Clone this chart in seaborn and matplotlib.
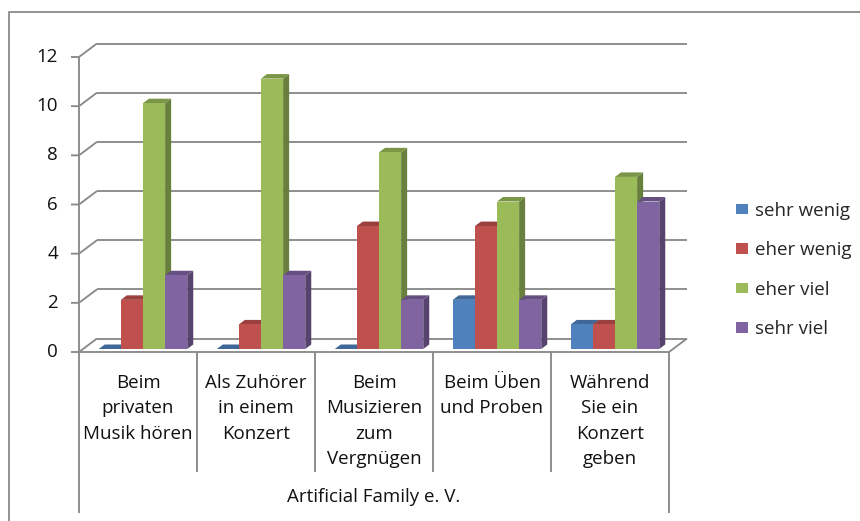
import matplotlib
matplotlib.use("Agg")
import matplotlib.pyplot as plt
from matplotlib.lines import Line2D
from matplotlib.patches import Polygon, Patch
from matplotlib.colors import to_rgb
import numpy as np
import pandas as pd
import seaborn as sns

# ---- data ---------------------------------------------------------------
categories = [
    "Beim\nprivaten\nMusik hören",
    "Als Zuhörer\nin einem\nKonzert",
    "Beim\nMusizieren\nzum\nVergnügen",
    "Beim Üben\nund Proben",
    "Während\nSie ein\nKonzert\ngeben",
]
series = ["sehr wenig", "eher wenig", "eher viel", "sehr viel"]
sehr_wenig = [0, 0, 0, 2, 1]
eher_wenig = [2, 1, 5, 5, 1]
eher_viel = [10, 11, 8, 6, 7]
sehr_viel = [3, 3, 2, 2, 6]
y_ticks = [0, 2, 4, 6, 8, 10, 12]
group_label = "Artificial Family e. V."

colors = ["#4F81BD", "#C0504D", "#9BBB59", "#8064A2"]
line_gray = "#8a8a8a"

values = [sehr_wenig, eher_wenig, eher_viel, sehr_viel]
rows = [(c, s, v[i]) for s, v in zip(series, values) for i, c in enumerate(categories)]
df = pd.DataFrame(rows, columns=["Situation", "Bewertung", "Anzahl"])

# ---- figure -------------------------------------------------------------
sns.set_theme(style="white")
plt.rcParams["font.family"] = ["Open Sans", "DejaVu Sans"]
FS = 13.5

W, H, DPI = 860, 521, 100
fig = plt.figure(figsize=(W / DPI, H / DPI), dpi=DPI)
fig.patch.set_facecolor("white")

# plane in which the bar fronts stand (pixel frame of the figure)
PL, PR, PB, PT = 84, 674, 349, 54
ax = fig.add_axes([PL / W, 1 - PB / H, (PR - PL) / W, (PB - PT) / H])

sns.barplot(
    data=df, x="Situation", y="Anzahl", hue="Bewertung",
    order=categories, hue_order=series, palette=colors,
    saturation=1, width=0.75, gap=0, linewidth=0,
    errorbar=None, legend=False, ax=ax,
)
ax.set_xlim(-0.5, len(categories) - 0.5)
ax.set_ylim(0, 12)
ax.set_xticks([])
ax.set_yticks([])
ax.set_xlabel("")
ax.set_ylabel("")
ax.patch.set_alpha(0)
for sp in ax.spines.values():
    sp.set_visible(False)

# pixel -> data conversion for the pseudo-3D offsets
sx = (PR - PL) / len(categories)
sy = (PB - PT) / 12.0


def px(dx, dy):
    """image-pixel offset (right, down) as data offset"""
    return dx / sx, -dy / sy


def ypix(py):
    """image row -> data y in the bar plane"""
    return (PB - py) / sy


fdx, fdy = px(-5, 3)       # front plane (axis, floor edge, table)
bdx, bdy = px(13, -10.5)   # back wall
ddx, ddy = px(6, -4.5)     # bar depth

x_left, x_right = -0.5, len(categories) - 0.5
lkw = dict(color=line_gray, lw=1.35, clip_on=False, solid_capstyle="butt")

# back wall grid lines with slanted connectors to the front axis
for t in y_ticks:
    ax.plot([x_left + bdx, x_right + bdx], [t + bdy, t + bdy], zorder=1, **lkw)
    ax.plot([x_left + fdx - px(8, 0)[0], x_left + fdx, x_left + bdx],
            [t + fdy, t + fdy, t + bdy], zorder=1, **lkw)
    ax.text(x_left + fdx - px(21, 0)[0], t + fdy, str(t), ha="right",
            va="center", fontsize=FS, color="#111111", clip_on=False)

# floor: front edge and right slant
ax.plot([x_left + fdx, x_right + fdx, x_right + bdx],
        [fdy, fdy, bdy], zorder=1, **lkw)

# front value axis continuing into the category table
ax.plot([x_left + fdx, x_left + fdx], [12 + fdy, ypix(513)], zorder=1, **lkw)
ax.plot([x_right + fdx, x_right + fdx], [fdy, ypix(513)], zorder=1, **lkw)
for k in range(1, len(categories)):
    ax.plot([k - 0.5 + fdx, k - 0.5 + fdx], [fdy, ypix(472)], zorder=1, **lkw)

for k, c in enumerate(categories):
    ax.text(k + fdx, ypix(374), c, ha="center", va="top", fontsize=FS,
            linespacing=1.53, color="#111111", clip_on=False)
ax.text((x_left + x_right) / 2 + fdx, ypix(497), group_label, ha="center",
        va="center", fontsize=FS, color="#111111", clip_on=False)


# 3D sides and tops of the bars
def shade(c, f):
    r, g, b = to_rgb(c)
    return (r * f, g * f, b * f)


bars = sorted([p for p in ax.patches], key=lambda p: p.get_x())
for i, p in enumerate(bars):
    x0, w, h = p.get_x(), p.get_width(), p.get_height()
    fc = p.get_facecolor()
    z = 3 + 0.01 * i
    side = Polygon([(x0 + w, 0), (x0 + w + ddx, ddy), (x0 + w + ddx, h + ddy), (x0 + w, h)],
                   closed=True, facecolor=shade(fc, 0.68), edgecolor="none", zorder=z)
    top = Polygon([(x0, h), (x0 + w, h), (x0 + w + ddx, h + ddy), (x0 + ddx, h + ddy)],
                  closed=True, facecolor=shade(fc, 0.8), edgecolor="none", zorder=z + 0.002)
    if h > 0:
        ax.add_patch(side)
    ax.add_patch(top)
    p.set_zorder(z + 0.005)

# legend
handles = [Patch(facecolor=c, edgecolor="none") for c in colors]
fig.legend(handles, series, loc="center left", bbox_to_anchor=(736 / W, 1 - 270 / H),
           frameon=False, fontsize=FS, handlelength=0.66, handleheight=0.5,
           handletextpad=0.35, labelspacing=1.15, borderaxespad=0, borderpad=0)

# chart area frame (left and top edges in view)
fig.add_artist(Line2D([9 / W, 9 / W, 1], [0, 1 - 12 / H, 1 - 12 / H],
                      transform=fig.transFigure, color=line_gray, lw=1.3))

fig.savefig("out.png", dpi=DPI, facecolor="white")
